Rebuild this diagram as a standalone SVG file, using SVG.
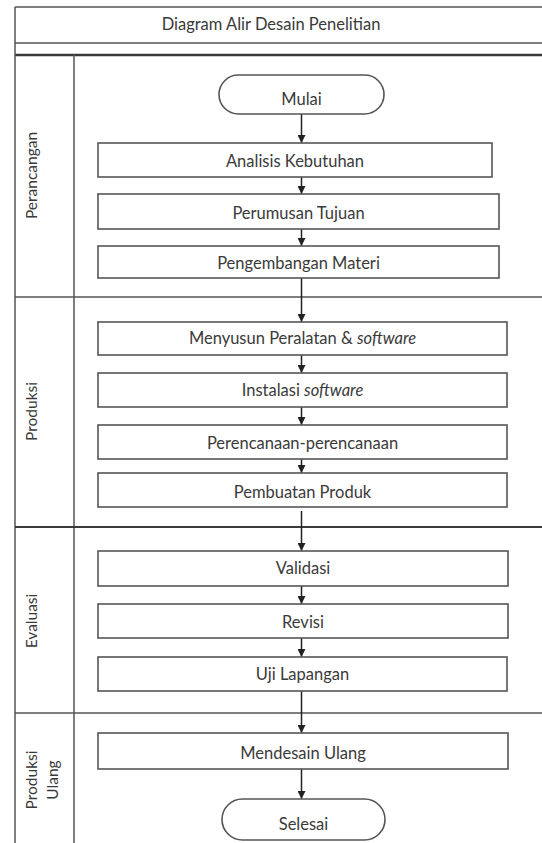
<svg xmlns="http://www.w3.org/2000/svg" width="542" height="843" viewBox="0 0 542 843">
<style>
.frame{stroke:#555;stroke-width:1.5;fill:none}
.thick{stroke:#3a3a3a;stroke-width:2.5;fill:none}
.box{fill:#fff;stroke:#555;stroke-width:1.6}
.t{font-family:Lato,"Open Sans",sans-serif;font-size:16.5px;fill:#3a3a3a;text-anchor:middle}
.lane{font-family:Lato,"Open Sans",sans-serif;font-size:15.5px;fill:#3a3a3a;text-anchor:middle}
.conn{stroke:#222;stroke-width:1.5;fill:none;marker-end:url(#ah)}
</style>
<defs>
<marker id="ah" markerWidth="8" markerHeight="8" refX="8" refY="4" orient="auto" markerUnits="userSpaceOnUse">
<path d="M0,0 L8,4 L0,8 Z" fill="#222"/>
</marker>
</defs>
<rect width="542" height="843" fill="#fff"/>
<g id="frame">
<line class="frame" x1="15" y1="7" x2="542" y2="7"/>
<line class="frame" x1="15" y1="43" x2="542" y2="43"/>
<line class="thick" x1="15" y1="55" x2="542" y2="55"/>
<line class="frame" x1="15" y1="7" x2="15" y2="843"/>
<line class="frame" x1="74" y1="55" x2="74" y2="843"/>
<line class="frame" x1="15" y1="297" x2="542" y2="297"/>
<line class="thick" x1="15" y1="527" x2="542" y2="527" style="stroke-width:2"/>
<line class="frame" x1="15" y1="713" x2="542" y2="713"/>
<text class="t" x="271" y="29.5">Diagram Alir Desain Penelitian</text>
</g>
<g id="lanes">
<text class="lane" transform="translate(37,175.5) rotate(-90)">Perancangan</text>
<text class="lane" transform="translate(37,411.5) rotate(-90)">Produksi</text>
<text class="lane" transform="translate(37,621) rotate(-90)">Evaluasi</text>
<text class="lane" transform="translate(37,780) rotate(-90)">Produksi</text>
<text class="lane" transform="translate(58,780) rotate(-90)">Ulang</text>
</g>
<g id="connectors">
<line class="conn" x1="301.5" y1="114" x2="301.5" y2="143"/>
<line class="conn" x1="301.5" y1="177" x2="301.5" y2="194"/>
<line class="conn" x1="301.5" y1="229" x2="301.5" y2="246"/>
<line class="conn" x1="301.5" y1="278" x2="301.5" y2="322"/>
<line class="conn" x1="301.5" y1="355" x2="301.5" y2="373"/>
<line class="conn" x1="301.5" y1="407" x2="301.5" y2="425"/>
<line class="conn" x1="301.5" y1="459" x2="301.5" y2="473"/>
<line class="conn" x1="301.5" y1="511" x2="301.5" y2="551"/>
<line class="conn" x1="301.5" y1="586" x2="301.5" y2="604"/>
<line class="conn" x1="301.5" y1="638" x2="301.5" y2="657"/>
<line class="conn" x1="301.5" y1="691" x2="301.5" y2="733"/>
<line class="conn" x1="301.5" y1="769" x2="301.5" y2="799"/>
</g>
<g id="mulai">
<rect class="box" x="219" y="75" width="165" height="39" rx="19.5"/>
<text class="t" x="301.5" y="104.5">Mulai</text>
</g>
<g id="analisis">
<rect class="box" x="98" y="143" width="394" height="34"/>
<text class="t" x="295" y="166.5">Analisis Kebutuhan</text>
</g>
<g id="perumusan">
<rect class="box" x="98" y="194" width="401" height="35"/>
<text class="t" x="298.5" y="218.5">Perumusan Tujuan</text>
</g>
<g id="pengembangan">
<rect class="box" x="98" y="246" width="401" height="32"/>
<text class="t" x="298.5" y="268.5">Pengembangan Materi</text>
</g>
<g id="menyusun">
<rect class="box" x="98" y="322" width="409" height="33"/>
<text class="t" x="302.5" y="343.5">Menyusun Peralatan &amp; <tspan font-style="italic">software</tspan></text>
</g>
<g id="instalasi">
<rect class="box" x="98" y="373" width="409" height="34"/>
<text class="t" x="302.5" y="396">Instalasi <tspan font-style="italic">software</tspan></text>
</g>
<g id="perencanaan">
<rect class="box" x="98" y="425" width="409" height="34"/>
<text class="t" x="302.5" y="448.5">Perencanaan-perencanaan</text>
</g>
<g id="pembuatan">
<rect class="box" x="98" y="473" width="409" height="34"/>
<text class="t" x="302.5" y="497.5">Pembuatan Produk</text>
</g>
<g id="validasi">
<rect class="box" x="98" y="551" width="410" height="35"/>
<text class="t" x="303" y="574">Validasi</text>
</g>
<g id="revisi">
<rect class="box" x="98" y="604" width="410" height="34"/>
<text class="t" x="303" y="627.5">Revisi</text>
</g>
<g id="uji">
<rect class="box" x="98" y="657" width="409" height="34"/>
<text class="t" x="302.5" y="680">Uji Lapangan</text>
</g>
<g id="mendesain">
<rect class="box" x="98" y="733" width="410" height="36"/>
<text class="t" x="303" y="759">Mendesain Ulang</text>
</g>
<g id="selesai">
<rect class="box" x="222" y="799" width="163" height="41" rx="20.5"/>
<text class="t" x="303.5" y="830">Selesai</text>
</g>
</svg>
